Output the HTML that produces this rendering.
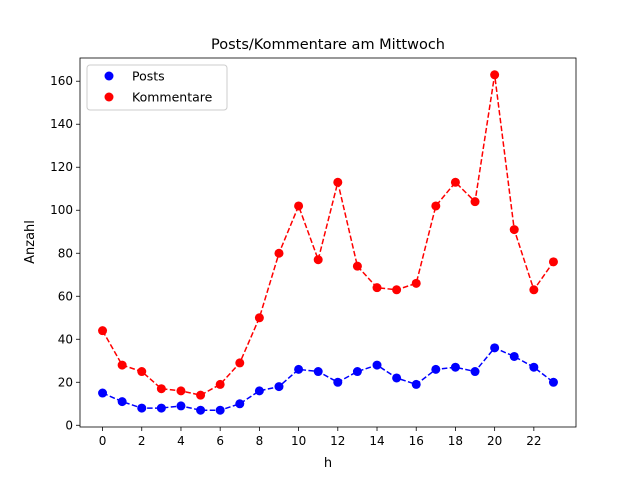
<!DOCTYPE html>
<html><head><meta charset="utf-8"><style>body{margin:0;background:#fff}svg{display:block;font-family:"DejaVu Sans","Liberation Sans",sans-serif}</style></head>
<body>
<svg id="chart" width="640" height="480" viewBox="0 0 640 480"></svg>
<script>
const hours = [0,1,2,3,4,5,6,7,8,9,10,11,12,13,14,15,16,17,18,19,20,21,22,23];
const posts = [15,11,8,8,9,7,7,10,16,18,26,25,20,25,28,22,19,26,27,25,36,32,27,20];
const comments = [44,28,25,17,16,14,19,29,50,80,102,77,113,74,64,63,66,102,113,104,163,91,63,76];
const xTicks = [0,2,4,6,8,10,12,14,16,18,20,22];
const yTicks = [0,20,40,60,80,100,120,140,160];

const svg = document.getElementById('chart');
const NS = 'http://www.w3.org/2000/svg';
const L=80,R=576,T=58,B=427;
const allV = posts.concat(comments);
const ymin0=Math.min(...allV), ymax0=Math.max(...allV), yr=ymax0-ymin0;
const ymin=ymin0-0.05*yr, ymax=ymax0+0.05*yr;
const xmin0=Math.min(...hours), xmax0=Math.max(...hours), xr=xmax0-xmin0;
const xmin=xmin0-0.05*xr, xmax=xmax0+0.05*xr;
const X=v=>L+(v-xmin)/(xmax-xmin)*(R-L);
const Y=v=>B-(v-ymin)/(ymax-ymin)*(B-T);
function mk(tag,attrs,parent){const e=document.createElementNS(NS,tag);for(const k in attrs)e.setAttribute(k,attrs[k]);(parent||svg).appendChild(e);return e;}

const title=mk('text',{x:328,y:49,'text-anchor':'middle','font-size':14.5,fill:'#000'});
title.textContent='Posts/Kommentare am Mittwoch';



xTicks.forEach(t=>{
  const g=mk('g',{});
  
  
  mk('line',{x1:X(t),x2:X(t),y1:B,y2:B+4,stroke:'#000','stroke-width':0.8},g);
  const tx=mk('text',{x:X(t),y:B+18,'text-anchor':'middle','font-size':12},g);tx.textContent=t;
});
yTicks.forEach(t=>{
  const g=mk('g',{});
  
  
  mk('line',{x1:L-4,x2:L,y1:Y(t),y2:Y(t),stroke:'#000','stroke-width':0.8},g);
  const tx=mk('text',{x:L-7,y:Y(t)+4,'text-anchor':'end','font-size':12},g);tx.textContent=t;
});
const xl=mk('text',{x:328,y:467,'text-anchor':'middle','font-size':13});xl.textContent='h';


const yl=mk('text',{x:34,y:242,'text-anchor':'middle','font-size':13,transform:'rotate(-90 34 242)'});yl.textContent='Anzahl';



function series(vals,color,name){
  const g=mk('g',{});
  
  
  mk('polyline',{points:hours.map((h,i)=>X(h)+','+Y(vals[i])).join(' '),fill:'none',stroke:color,'stroke-width':1.5,'stroke-dasharray':'5.5,2.4'},g);
  hours.forEach((h,i)=>{
    const c=mk('circle',{cx:X(h),cy:Y(vals[i]),r:4.5,fill:color},g);
    
    
  });
}
series(posts,'#0000ff','posts');
series(comments,'#ff0000','kommentare');

const frame=mk('rect',{x:L,y:T,width:R-L,height:B-T,fill:'none',stroke:'#000','stroke-width':0.8});



const lg=mk('g',{});


mk('rect',{x:87,y:65,width:140,height:45,rx:3,fill:'#fff',stroke:'#ccc','stroke-width':1},lg);
[['Posts','#0000ff',76],['Kommentare','#ff0000',97]].forEach(([n,c,y])=>{
  const e=mk('g',{},lg);
  
  
  mk('circle',{cx:109,cy:y,r:4.5,fill:c},e);
  const t=mk('text',{x:132,y:y+4.5,'font-size':12.5},e);t.textContent=n;
});
</script>
</body></html>
